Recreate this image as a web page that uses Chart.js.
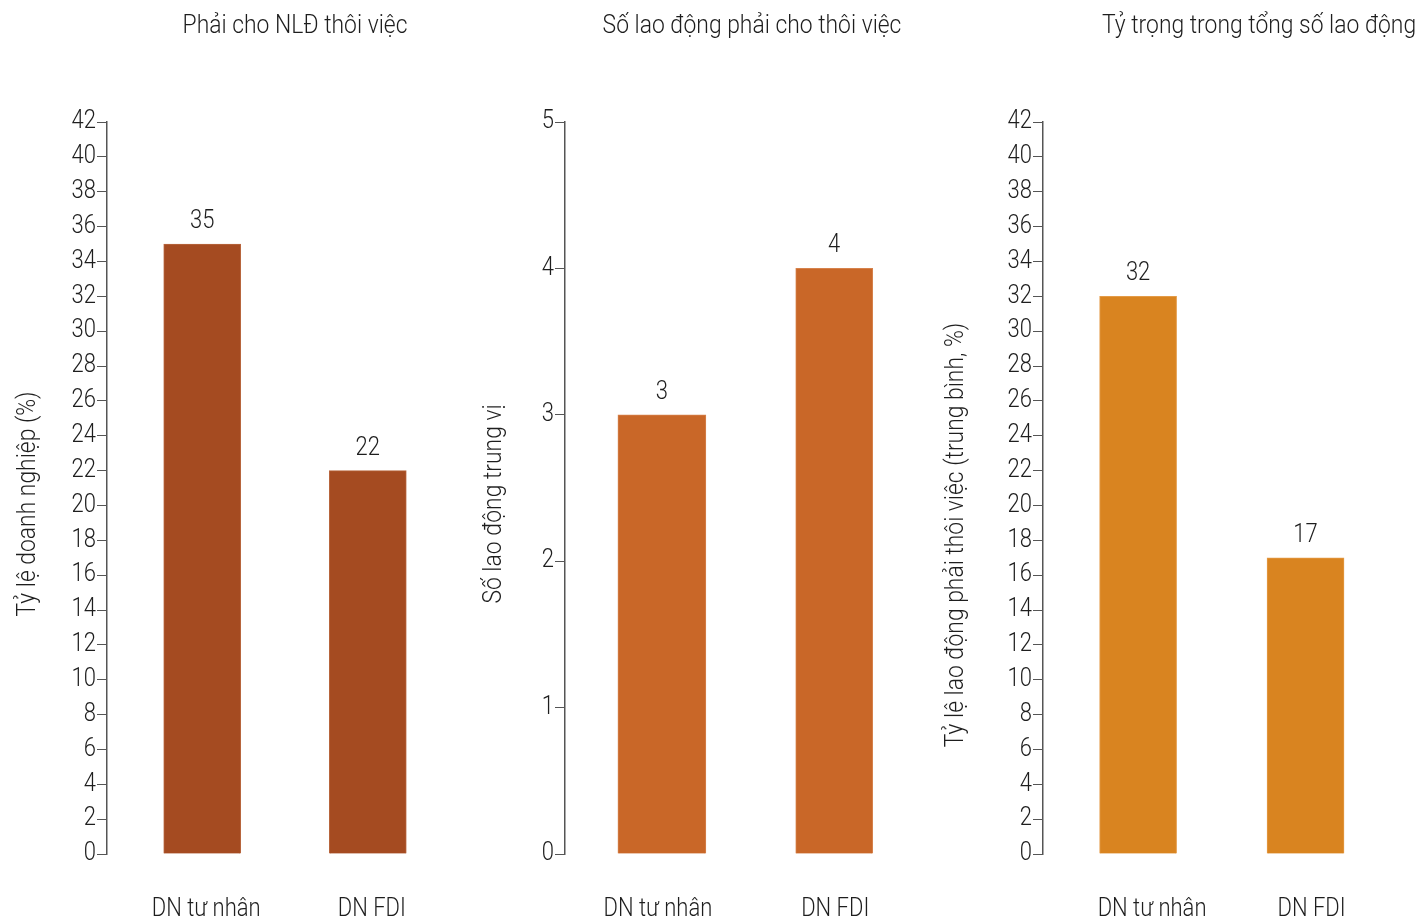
<!DOCTYPE html>
<html><head><meta charset="utf-8">
<script src="https://cdn.jsdelivr.net/npm/chart.js@4.4.1/dist/chart.umd.min.js"></script>
<style>
html,body{margin:0;padding:0;background:#fff;width:1424px;height:921px;overflow:hidden;}
.p{position:absolute;top:0;height:921px;}
canvas{display:block;}
</style></head><body>
<div class="p" style="left:0;width:470px"><canvas id="c1" width="470" height="921"></canvas></div>
<div class="p" style="left:470px;width:465px"><canvas id="c2" width="465" height="921"></canvas></div>
<div class="p" style="left:935px;width:489px"><canvas id="c3" width="489" height="921"></canvas></div>
<script>
// ---- data ----
const categories = ['DN tư nhân', 'DN FDI'];
const panelTitles = ['Phải cho NLĐ thôi việc', 'Số lao động phải cho thôi việc', 'Tỷ trọng trong tổng số lao động'];
const yAxisTitles = ['Tỷ lệ doanh nghiệp (%)', 'Số lao động trung vị', 'Tỷ lệ lao động phải thôi việc (trung bình, %)'];
const shareFirms = [35, 22];
const medianWorkers = [3, 4];
const shareWorkers = [32, 17];
const yMaxes = [42, 5, 42];
const ySteps = [2, 1, 2];

// ---- styles / layout ----
const FONT = "'Roboto', sans-serif";
const TEXT = '#1e1e1e';
const AXIS = '#555555';
const SX = 0.88; // horizontal squeeze to mimic a condensed face
const panels = [
  {id:'c1', values: shareFirms, color:'#A54B21', edge:'#B8673F', axisW:107, padR:7, xMin:-0.575, xMax:1.575, thick:[77,77], labelShift:[4,4], titleX:295, yTitleX:28, yTitleY:504},
  {id:'c2', values: medianWorkers, color:'#C96728', edge:'#D6824C', axisW:95, padR:6, xMin:-0.5623, xMax:1.55, thick:[88,77], labelShift:[-4,1], titleX:282, yTitleX:24, yTitleY:504},
  {id:'c3', values: shareWorkers, color:'#D98420', edge:'#E49B47', axisW:108, padR:18, xMin:-0.568, xMax:1.6, thick:[77,77], labelShift:[14,6], titleX:324, yTitleX:21, yTitleY:535}
];

function squeezed(ctx, text, x, y, align, baseline, size, rot) {
  ctx.save();
  ctx.font = `300 ${size}px ${FONT}`;
  ctx.textAlign = align;
  ctx.textBaseline = baseline;
  ctx.translate(x, y);
  if (rot) ctx.rotate(rot);
  ctx.scale(SX, 1);
  ctx.fillText(text, 0, 0);
  ctx.restore();
}

const textPlugin = {
  id: 'texts',
  afterDraw(chart, args, o) {
    const ctx = chart.ctx;
    ctx.save();
    ctx.fillStyle = TEXT;
    squeezed(ctx, o.title, o.titleX, 33, 'center', 'alphabetic', 26);
    squeezed(ctx, o.yTitle, o.yTitleX, o.yTitleY, 'center', 'middle', 26, -Math.PI / 2);
    const ys = chart.scales.y;
    ys.ticks.forEach(t => {
      squeezed(ctx, String(t.value), ys.right - 11, ys.getPixelForValue(t.value), 'right', 'middle', 25);
    });
    const xs = chart.scales.x;
    categories.forEach((c, i) => {
      squeezed(ctx, c, xs.getPixelForValue(i) + o.labelShift[i], 916, 'center', 'alphabetic', 25);
    });
    chart.data.datasets.forEach((ds, di) => {
      const meta = chart.getDatasetMeta(di);
      meta.data.forEach((el, j) => {
        squeezed(ctx, String(ds.data[j].y), el.x, el.y - 16, 'center', 'alphabetic', 25);
      });
    });
    ctx.restore();
  }
};

panels.forEach((p, k) => {
  const datasets = p.values.map((v, i) => ({
    label: categories[i],
    data: [{x: i, y: v}],
    backgroundColor: p.color,
    borderColor: p.edge,
    borderWidth: 1,
    barThickness: p.thick[i],
    grouped: false
  }));
  new Chart(document.getElementById(p.id), {
    type: 'bar',
    data: {datasets},
    plugins: [textPlugin],
    options: {
      responsive: false,
      animation: false,
      devicePixelRatio: 1,
      layout: {padding: {top: 122, bottom: 0, left: 0, right: p.padR}},
      plugins: {
        legend: {display: false},
        tooltip: {enabled: false},
        title: {display: false},
        texts: {title: panelTitles[k], yTitle: yAxisTitles[k], titleX: p.titleX, yTitleX: p.yTitleX, yTitleY: p.yTitleY, labelShift: p.labelShift}
      },
      scales: {
        x: {
          type: 'linear',
          offset: false,
          min: p.xMin, max: p.xMax,
          afterFit: s => { s.height = 921 - 854; },
          ticks: {display: false},
          grid: {display: false, drawTicks: false, offset: false},
          border: {display: false}
        },
        y: {
          min: 0, max: yMaxes[k],
          afterFit: s => { s.width = p.axisW; },
          ticks: {stepSize: ySteps[k], color: 'rgba(0,0,0,0)', font: {size: 25}, padding: 1},
          grid: {drawOnChartArea: false, drawTicks: true, tickLength: 10, color: AXIS, lineWidth: 1},
          border: {color: AXIS, width: 1.5}
        }
      }
    }
  });
});
</script>
</body></html>
